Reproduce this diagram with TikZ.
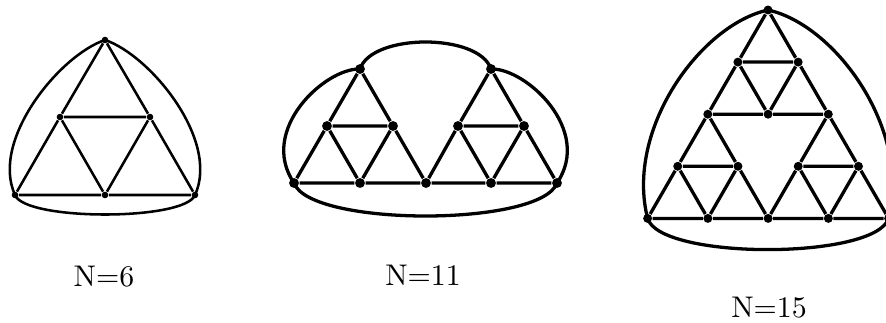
\documentclass[tikz,border=0pt]{standalone}
\usetikzlibrary{calc}

\tikzset{
  vtx/.style={circle,fill,inner sep=0pt,minimum size=#1},
  vtx/.default=3pt,
  edge/.style={line width=1.1pt},
}
% the nine edges of a once subdivided triangle:
% top, mid-left, mid-right, bottom-left, bottom-mid, bottom-right
\newcommand{\gasket}[6]{%
  \draw[edge] (#1)--(#2)--(#4)--(#5)--(#6)--(#3)--(#1);
  \draw[edge] (#2)--(#3)--(#5)--(#2);}

\begin{document}
\begin{tikzpicture}[x=0.01176cm,y=-0.01176cm]
  \useasboundingbox (0,0) rectangle (886,322);

  % N=6
  \begin{scope}[edge/.append style={line width=0.85pt}]
    \node[vtx=2.2pt] (a1) at (105,40) {};
    \node[vtx=2.2pt] (a2) at (60,117) {};
    \node[vtx=2.2pt] (a3) at (150,117) {};
    \node[vtx=2.2pt] (a4) at (15,195) {};
    \node[vtx=2.2pt] (a5) at (105,195) {};
    \node[vtx=2.2pt] (a6) at (195,195) {};
    \gasket{a1}{a2}{a3}{a4}{a5}{a6}
    \draw[edge] (a1.center) .. controls (60,55) and (-10,140) .. (a4.center);
    \draw[edge] (a1.center) .. controls (150,55) and (220,140) .. (a6.center);
    \draw[edge] (a4.center) .. controls (25,221) and (185,221) .. (a6.center);
  \end{scope}
  \node (l6) at (104,277) {N=6};

  % N=11
  \foreach \n/\x in {1/294,2/360,3/426,4/491,5/557}
    \node[vtx=3.3pt] (b\n) at (\x,183) {};
  \foreach \n/\x in {1/327,2/393,3/458,4/524}
    \node[vtx=3.3pt] (m\n) at (\x,126) {};
  \node[vtx=3.3pt] (t1) at (360,69) {};
  \node[vtx=3.3pt] (t2) at (491,69) {};
  \gasket{t1}{m1}{m2}{b1}{b2}{b3}
  \gasket{t2}{m3}{m4}{b3}{b4}{b5}
  \draw[edge] (t1.center) .. controls (372,33) and (479,33) .. (t2.center);
  \draw[edge] (t1.center) .. controls (325,68) and (258,130) .. (b1.center);
  \draw[edge] (t2.center) .. controls (526,68) and (593,130) .. (b5.center);
  \draw[edge] (b1.center) .. controls (310,227) and (541,227) .. (b5.center);
  \node (l11) at (423,275) {N=11};

  % N=15
  \foreach \r in {0,...,4}
    \foreach \c in {0,...,\r}
      \node[vtx=3pt] (v\r\c) at ({768-30.1*\r+60.25*\c},{10+52.1*\r}) {};
  \gasket{v00}{v10}{v11}{v20}{v21}{v22}
  \gasket{v20}{v30}{v31}{v40}{v41}{v42}
  \gasket{v22}{v32}{v33}{v42}{v43}{v44}
  \draw[edge] (v00.center) .. controls (700,25) and (625,130) .. (v40.center);
  \draw[edge] (v00.center) .. controls (836,25) and (911,130) .. (v44.center);
  \draw[edge] (v40.center) .. controls (660,260) and (875,260) .. (v44.center);
  \node (l15) at (769,308) {N=15};
\end{tikzpicture}
\end{document}
